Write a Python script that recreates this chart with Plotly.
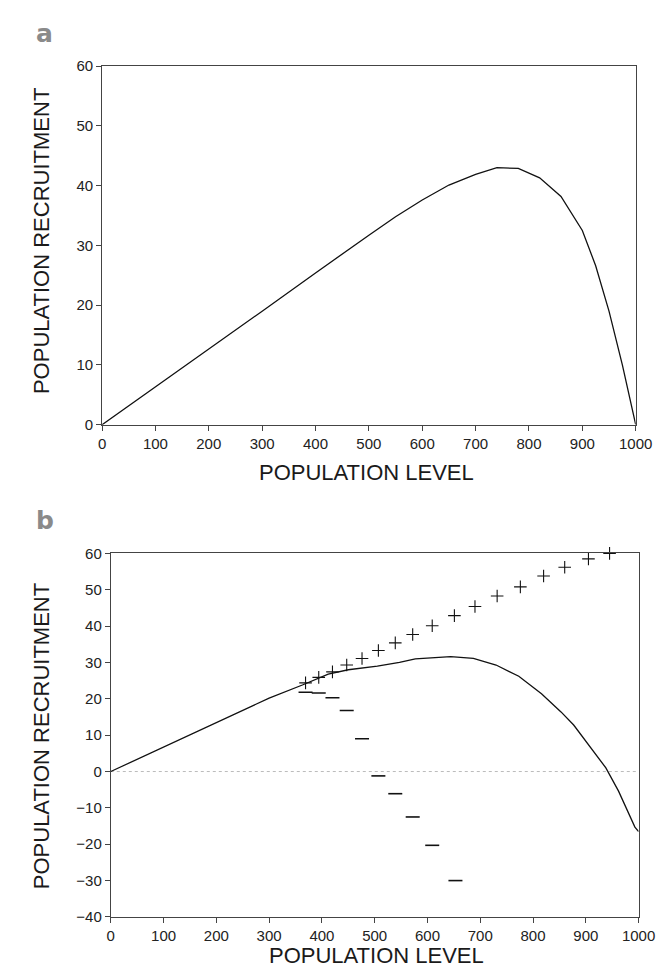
import plotly.graph_objects as go

# ---- Panel a data ----
a_level = [0, 100, 200, 300, 400, 450, 500, 550, 600, 650, 700, 740, 780, 820, 860, 900, 925, 950, 975, 1000]
a_recruit = [0, 6.3, 12.7, 19.0, 25.4, 28.6, 31.7, 34.8, 37.6, 40.1, 41.9, 43.0, 42.9, 41.3, 38.2, 32.5, 26.6, 19.0, 10.0, 0]

# ---- Panel b data ----
b_level = [0, 100, 200, 300, 363, 412, 450, 505, 547, 577, 644, 687, 730, 773, 816, 853, 877, 901, 938, 962, 993, 1000]
b_recruit = [0, 6.7, 13.5, 20.2, 23.8, 26.8, 28.0, 29.0, 30.0, 31.0, 31.6, 31.1, 29.3, 26.2, 21.4, 16.4, 12.8, 8.2, 1.0, -5.4, -15.3, -16.5]

plus_level = [369, 394, 420, 447, 476, 507, 539, 572, 609, 651, 690, 732, 776, 820, 860, 905, 945]
plus_recruit = [24.4, 25.9, 27.4, 29.3, 31.1, 33.3, 35.4, 37.7, 40.1, 42.9, 45.4, 48.3, 50.8, 53.8, 56.2, 58.5, 60.0]

minus_level = [369, 394, 420, 447, 476, 507, 539, 572, 609, 653]
minus_recruit = [21.8, 21.6, 20.3, 16.8, 9.0, -1.2, -6.1, -12.5, -20.3, -30.0]

x_ticks = [0, 100, 200, 300, 400, 500, 600, 700, 800, 900, 1000]
ya_ticks = [0, 10, 20, 30, 40, 50, 60]
yb_ticks = [-40, -30, -20, -10, 0, 10, 20, 30, 40, 50, 60]

W, H = 666, 969
FONT = "Liberation Sans, Arial, sans-serif"

def px_x(p):
    return p / W

def px_y(p):
    return 1 - p / H

fig = go.Figure()

fig.add_trace(go.Scatter(x=a_level, y=a_recruit, mode="lines",
                         line=dict(color="#111", width=1.3), xaxis="x", yaxis="y",
                         showlegend=False))

fig.add_trace(go.Scatter(x=[0, 1000], y=[0, 0], mode="lines",
                         line=dict(color="#bbbbbb", width=1, dash="dot"),
                         xaxis="x2", yaxis="y2", showlegend=False))
fig.add_trace(go.Scatter(x=b_level, y=b_recruit, mode="lines",
                         line=dict(color="#111", width=1.3), xaxis="x2", yaxis="y2",
                         showlegend=False))
fig.add_trace(go.Scatter(x=plus_level, y=plus_recruit, mode="markers",
                         marker=dict(symbol="cross-thin", size=9, color="#111",
                                     line=dict(color="#111", width=1.1)),
                         xaxis="x2", yaxis="y2", showlegend=False, cliponaxis=False))
fig.add_trace(go.Scatter(x=minus_level, y=minus_recruit, mode="markers",
                         marker=dict(symbol="line-ew", size=10, color="#111",
                                     line=dict(color="#111", width=1.6)),
                         xaxis="x2", yaxis="y2", showlegend=False))

axis_common = dict(showgrid=False, zeroline=False, showline=True, linecolor="#444",
                   linewidth=1, mirror=True, ticks="outside", ticklen=5, tickcolor="#444",
                   tickfont=dict(family=FONT, size=15, color="#222"))

fig.update_layout(
    width=W, height=H,
    margin=dict(l=0, r=0, t=0, b=0),
    paper_bgcolor="white", plot_bgcolor="white",
    xaxis=dict(domain=[px_x(93), px_x(644)], range=[0, 1000], tickvals=x_ticks,
               anchor="y", **axis_common),
    yaxis=dict(domain=[px_y(415), px_y(50)], range=[0, 60], tickvals=ya_ticks,
               anchor="x", **axis_common),
    xaxis2=dict(domain=[px_x(102), px_x(647)], range=[0, 1000], tickvals=x_ticks,
                anchor="y2", **axis_common),
    yaxis2=dict(domain=[px_y(916), px_y(546)], range=[-40, 60], tickvals=yb_ticks,
                anchor="x2", **axis_common),
)

ann = []
title_font = dict(family=FONT, size=22, color="#1a1a1a")
ann.append(dict(text="POPULATION LEVEL", x=px_x(366), y=px_y(464), xref="paper", yref="paper",
                showarrow=False, font=title_font, xanchor="center", yanchor="middle"))
ann.append(dict(text="POPULATION LEVEL", x=px_x(376), y=0, xref="paper", yref="paper",
                showarrow=False, font=title_font, xanchor="center", yanchor="bottom",
                borderpad=0))
ann.append(dict(text="POPULATION RECRUITMENT", x=px_x(30), y=px_y(228), xref="paper", yref="paper",
                showarrow=False, font=title_font, textangle=-90, xanchor="center", yanchor="middle"))
ann.append(dict(text="POPULATION RECRUITMENT", x=px_x(30), y=px_y(732), xref="paper", yref="paper",
                showarrow=False, font=title_font, textangle=-90, xanchor="center", yanchor="middle"))
label_font = dict(family="DejaVu Sans, sans-serif", size=25, color="#8a8a8a")
ann.append(dict(text="<b>a</b>", x=px_x(34), y=px_y(17), xref="paper", yref="paper",
                showarrow=False, font=label_font, xanchor="center", yanchor="middle"))
ann.append(dict(text="<b>b</b>", x=px_x(34), y=px_y(512), xref="paper", yref="paper",
                showarrow=False, font=label_font, xanchor="center", yanchor="middle"))
fig.update_layout(annotations=ann)

fig.write_html("out.html")
